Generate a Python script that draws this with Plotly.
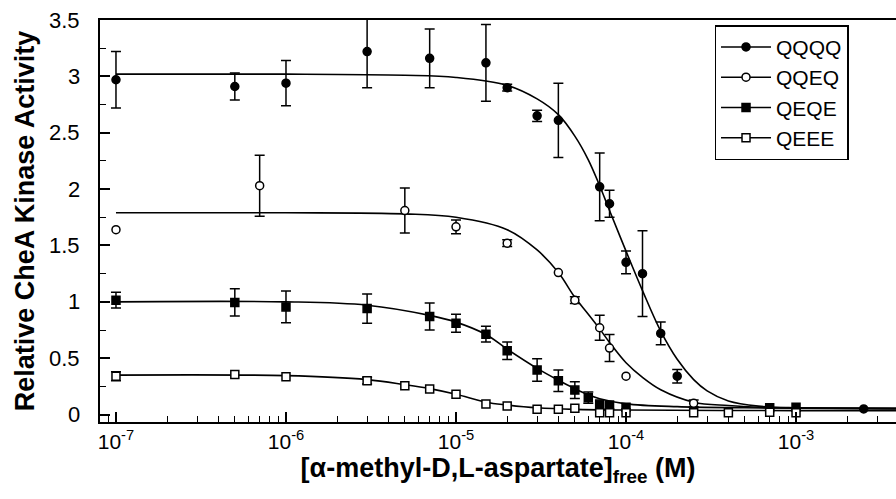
import plotly.graph_objects as go

# ---- measured data points ----
qqqq_x = [1e-7, 5e-7, 1e-6, 3e-6, 7e-6, 1.5e-5, 2e-5, 3e-5, 4e-5, 7e-5, 8e-5, 1e-4, 1.25e-4, 1.6e-4, 2e-4, 2.5e-3]
qqqq_y = [2.97, 2.91, 2.94, 3.22, 3.16, 3.12, 2.90, 2.65, 2.61, 2.02, 1.87, 1.35, 1.25, 0.72, 0.34, 0.05]
qqqq_e = [0.25, 0.12, 0.20, 0.32, 0.26, 0.34, 0.03, 0.05, 0.33, 0.30, 0.12, 0.10, 0.38, 0.10, 0.06, None]

qqeq_x = [1e-7, 7e-7, 5e-6, 1e-5, 2e-5, 4e-5, 5e-5, 7e-5, 8e-5, 1e-4, 2.5e-4]
qqeq_y = [1.64, 2.03, 1.81, 1.665, 1.52, 1.26, 1.015, 0.77, 0.59, 0.34, 0.10]
qqeq_e = [None, 0.27, 0.20, 0.06, 0.03, None, 0.03, 0.11, 0.12, None, 0.03]

qeqe_x = [1e-7, 5e-7, 1e-6, 3e-6, 7e-6, 1e-5, 1.5e-5, 2e-5, 3e-5, 4e-5, 5e-5, 6e-5, 7e-5, 8e-5, 1e-4, 7e-4, 1e-3]
qeqe_y = [1.015, 0.995, 0.955, 0.94, 0.87, 0.81, 0.713, 0.566, 0.395, 0.30, 0.217, 0.15, 0.093, 0.085, 0.065, 0.06, 0.065]
qeqe_e = [0.07, 0.12, 0.14, 0.13, 0.12, 0.08, 0.07, 0.077, 0.10, 0.095, 0.074, 0.05, None, None, None, None, None]

qeee_x = [1e-7, 5e-7, 1e-6, 3e-6, 5e-6, 7e-6, 1e-5, 1.5e-5, 2e-5, 3e-5, 4e-5, 5e-5, 7e-5, 8e-5, 1e-4, 2.5e-4, 4e-4, 7e-4, 1e-3]
qeee_y = [0.34, 0.356, 0.335, 0.30, 0.255, 0.226, 0.18, 0.093, 0.075, 0.046, 0.046, 0.055, 0.016, 0.016, 0.016, 0.016, 0.016, 0.02, 0.016]
qeee_e = [0.04, None, None, 0.03, None, None, None, None, None, None, None, None, None, None, None, None, None, None, None]

# ---- fitted curves ----
fit_qqqq_x = [1e-7, 1e-6, 5e-6, 1e-5, 2e-5, 3e-5, 4e-5, 5e-5, 6e-5, 7e-5, 8e-5, 1e-4, 1.25e-4, 1.6e-4, 2e-4, 2.5e-4, 3e-4, 4e-4, 6e-4, 1e-3, 4e-3]
fit_qqqq_y = [3.02, 3.02, 3.01, 2.99, 2.92, 2.80, 2.66, 2.47, 2.26, 2.03, 1.81, 1.45, 1.10, 0.74, 0.49, 0.31, 0.21, 0.12, 0.075, 0.06, 0.055]

fit_qqeq_x = [1e-7, 1e-6, 5e-6, 1e-5, 2e-5, 3e-5, 4e-5, 5e-5, 6e-5, 7e-5, 8e-5, 1e-4, 1.25e-4, 1.6e-4, 2.5e-4, 4e-4, 6e-4, 1e-3, 4e-3]
fit_qqeq_y = [1.79, 1.79, 1.78, 1.75, 1.64, 1.46, 1.26, 1.04, 0.89, 0.76, 0.64, 0.46, 0.33, 0.22, 0.11, 0.08, 0.065, 0.06, 0.055]

fit_qeqe_x = [1e-7, 1e-6, 3e-6, 7e-6, 1e-5, 1.5e-5, 2e-5, 3e-5, 4e-5, 5e-5, 6e-5, 7e-5, 1e-4, 2e-4, 5e-4, 4e-3]
fit_qeqe_y = [1.0, 1.0, 0.97, 0.88, 0.82, 0.71, 0.58, 0.41, 0.305, 0.23, 0.175, 0.14, 0.095, 0.07, 0.06, 0.05]

fit_qeee_x = [1e-7, 1e-6, 3e-6, 5e-6, 7e-6, 1e-5, 1.5e-5, 2e-5, 3e-5, 5e-5, 1e-4, 1e-3, 4e-3]
fit_qeee_y = [0.35, 0.345, 0.31, 0.265, 0.23, 0.18, 0.11, 0.085, 0.06, 0.046, 0.04, 0.035, 0.035]

names = ["QQQQ", "QQEQ", "QEQE", "QEEE"]
symbols = ["circle", "circle", "square", "square"]
fills = ["black", "white", "black", "white"]

x_tickvals = [1e-7, 1e-6, 1e-5, 1e-4, 1e-3]
x_ticktext = ["10<sup>-7</sup>", "10<sup>-6</sup>", "10<sup>-5</sup>", "10<sup>-4</sup>", "10<sup>-3</sup>"]
y_tickvals = [0, 0.5, 1, 1.5, 2, 2.5, 3, 3.5]
y_ticktext = ["0", "0.5", "1", "1.5", "2", "2.5", "3", "3.5"]
y_minor_vals = [0.25, 0.75, 1.25, 1.75, 2.25, 2.75, 3.25]
x_minor_vals = [m * d for d in [1e-8, 1e-7, 1e-6, 1e-5, 1e-4, 1e-3] for m in range(2, 10)]

series = [
    (qqqq_x, qqqq_y, qqqq_e, fit_qqqq_x, fit_qqqq_y),
    (qqeq_x, qqeq_y, qqeq_e, fit_qqeq_x, fit_qqeq_y),
    (qeqe_x, qeqe_y, qeqe_e, fit_qeqe_x, fit_qeqe_y),
    (qeee_x, qeee_y, qeee_e, fit_qeee_x, fit_qeee_y),
]

FONT = "Liberation Sans, Arial, sans-serif"
fig = go.Figure()

# curves
for (px, py, pe, fx, fy), name in zip(series, names):
    fig.add_trace(go.Scatter(x=fx, y=fy, mode="lines", line=dict(color="black", width=1.6, shape="spline", smoothing=1.0),
                             showlegend=False, hoverinfo="skip"))

# points
for (px, py, pe, fx, fy), name, sym, fc in zip(series, names, symbols, fills):
    ex = [x for x, e in zip(px, pe) if e is not None]
    ey = [y for y, e in zip(py, pe) if e is not None]
    ee = [e for e in pe if e is not None]
    nx = [x for x, e in zip(px, pe) if e is None]
    ny = [y for y, e in zip(py, pe) if e is None]
    mk = dict(symbol=sym, size=8, color=fc, line=dict(color="black", width=1.5))
    fig.add_trace(go.Scatter(x=ex, y=ey, mode="markers", marker=mk,
                             error_y=dict(type="data", array=ee, visible=True, color="black", thickness=1.5, width=5),
                             showlegend=False))
    if nx:
        fig.add_trace(go.Scatter(x=nx, y=ny, mode="markers", marker=mk, showlegend=False))
    # legend entry
    fig.add_trace(go.Scatter(x=[None], y=[None], mode="lines+markers", name=name,
                             line=dict(color="black", width=1.5), marker=mk))

# y tick labels as annotations (placed further from the axis, as in the original)
for v, t in zip(y_tickvals, y_ticktext):
    fig.add_annotation(x=-0.0226, xref="paper", y=v, yref="y", text=t, showarrow=False,
                       xanchor="right", yanchor="middle", font=dict(size=22, family=FONT, color="black"))

fig.update_layout(
    width=896, height=499,
    margin=dict(l=100, r=0, t=20, b=77),
    paper_bgcolor="white", plot_bgcolor="white",
    font=dict(family=FONT, color="black", size=20),
    legend=dict(x=0.772, y=0.987, xanchor="left", yanchor="top",
                bordercolor="black", borderwidth=1.5, bgcolor="white",
                font=dict(size=21, family=FONT), itemwidth=50,
                tracegroupgap=0),
)

fig.update_xaxes(
    type="log", range=[-7.094, -2.412],
    tickmode="array", tickvals=x_tickvals, ticktext=x_ticktext,
    ticks="inside", ticklen=10, tickwidth=1.5, tickcolor="black",
    minor=dict(ticks="inside", ticklen=6, tickwidth=1.3, tickcolor="black",
               tickmode="array", tickvals=x_minor_vals, showgrid=False),
    showline=True, linewidth=2, linecolor="black", mirror=True,
    showgrid=False, zeroline=False,
    tickfont=dict(size=21, family=FONT),
    title=dict(text="<b>[α-methyl-D,L-aspartate]<sub>free</sub> (M)</b>", font=dict(size=27, family=FONT), standoff=4),
)
fig.update_yaxes(
    range=[-0.066, 3.5],
    tickmode="array", tickvals=y_tickvals, showticklabels=False,
    ticks="inside", ticklen=10, tickwidth=1.5, tickcolor="black",
    minor=dict(ticks="inside", ticklen=6, tickwidth=1.3, tickcolor="black",
               tickmode="array", tickvals=y_minor_vals, showgrid=False),
    showline=True, linewidth=2, linecolor="black",
    showgrid=False, zeroline=False,
    title=dict(text="<b>Relative CheA Kinase Activity</b>", font=dict(size=27, family=FONT), standoff=56),
)

fig.write_html("out.html")
